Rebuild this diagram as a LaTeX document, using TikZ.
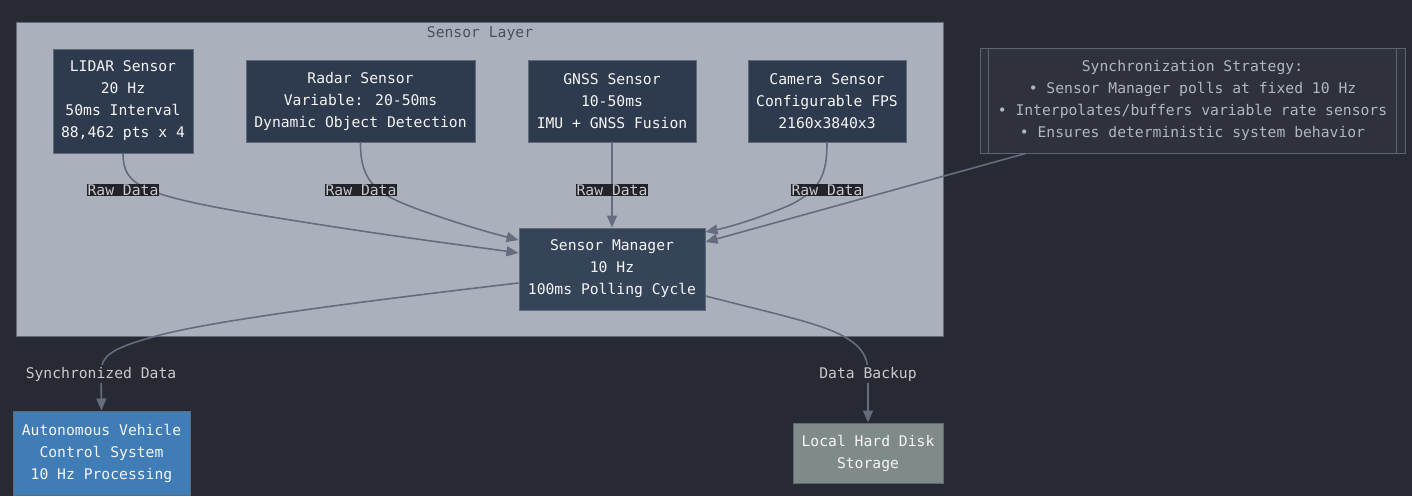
\documentclass[tikz,border=0pt]{standalone}
\usepackage{fontspec}
\newfontfamily\mono{DejaVu Sans Mono}
\usetikzlibrary{arrows.meta}
\definecolor{bgc}{RGB}{40,42,51}
\definecolor{clfill}{RGB}{171,176,189}
\definecolor{clborder}{RGB}{100,106,120}
\definecolor{cltext}{RGB}{75,80,92}
\definecolor{nodefill}{RGB}{46,58,77}
\definecolor{smfill}{RGB}{53,68,89}
\definecolor{nodeborder}{RGB}{95,105,120}
\definecolor{nodetext}{RGB}{245,245,245}
\definecolor{edgec}{RGB}{100,108,125}
\definecolor{lblbg}{RGB}{35,36,40}
\definecolor{lbltext}{RGB}{200,202,208}
\definecolor{notefill}{RGB}{48,50,59}
\definecolor{noteborder}{RGB}{95,99,110}
\definecolor{notetext}{RGB}{178,182,192}
\definecolor{autofill}{RGB}{64,124,182}
\definecolor{diskfill}{RGB}{127,139,137}
\tikzset{
  txt/.style={font=\mono\fontsize{14.7pt}{22pt}\selectfont},
  box/.style={txt, draw=nodeborder, fill=nodefill, text=nodetext, align=center, inner sep=0pt, line width=1pt, execute at begin node={\rule{0pt}{20pt}}},
  edge/.style={draw=edgec, line width=1.6pt, -{Triangle[length=12pt,width=10pt]}},
  lbl/.style={txt, fill=lblbg, text=lbltext, inner sep=1pt},
  lbldark/.style={txt, fill=bgc, text=lbltext, inner sep=2pt},
}
\begin{document}
\begin{tikzpicture}[x=1pt,y=-1pt]
\fill[bgc] (0,0) rectangle (1412,496);
\useasboundingbox (0,0) rectangle (1412,496);
% cluster
\draw[fill=clfill, draw=clborder, line width=1pt] (16,22) rectangle (943,336);
\node[txt, text=cltext, anchor=center] (cltitle) at (480,34) {Sensor Layer};
% sensors
\node[box, minimum width=140pt, minimum height=104pt] (lidar) at (123,101) {LIDAR Sensor\\20 Hz\\50ms Interval\\88,462 pts x 4};
\node[box, minimum width=229pt, minimum height=82pt] (radar) at (360.5,101) {Radar Sensor\\Variable: 20-50ms\\Dynamic Object Detection};
\node[box, minimum width=168pt, minimum height=82pt] (gnss) at (612,101) {GNSS Sensor\\10-50ms\\IMU + GNSS Fusion};
\node[box, minimum width=158pt, minimum height=82pt] (camera) at (827,101) {Camera Sensor\\Configurable FPS\\2160x3840x3};
\node[box, fill=smfill, minimum width=186pt, minimum height=82pt] (sm) at (612,269) {Sensor Manager\\10 Hz\\100ms Polling Cycle};
% note
\node[box, fill=notefill, draw=noteborder, text=notetext, minimum width=425pt, minimum height=105pt] (note) at (1192.5,100.5) {Synchronization Strategy:\\\textbullet{} Sensor Manager polls at fixed 10 Hz\\\textbullet{} Interpolates/buffers variable rate sensors\\\textbullet{} Ensures deterministic system behavior};
\draw[noteborder, line width=1pt] ([xshift=9pt]note.north west) -- ([xshift=9pt]note.south west);
\draw[noteborder, line width=1pt] ([xshift=-9pt]note.north east) -- ([xshift=-9pt]note.south east);
% outputs
\node[box, fill=autofill, minimum width=177pt, minimum height=84pt] (auto) at (101.5,453) {Autonomous Vehicle\\Control System\\10 Hz Processing};
\node[box, fill=diskfill, minimum width=150pt, minimum height=60pt] (disk) at (868,453) {Local Hard Disk\\Storage};
% edges
\draw[edge] (lidar.south) .. controls (123,185) and (140,195) .. (260,215) .. controls (380,235) and (470,246) .. ([yshift=16pt]sm.west);
\draw[edge] (radar.south) .. controls (360,185) and (380,195) .. (420,210) .. controls (465,226) and (495,234) .. ([yshift=29pt]sm.west);
\draw[edge] (gnss.south) -- (sm.north);
\draw[edge] (camera.south) .. controls (827,175) and (820,190) .. (790,205) .. controls (755,220) and (725,228) .. ([yshift=37pt]sm.east);
\draw[edge] ([xshift=-167pt]note.south) -- ([yshift=27pt]sm.east);
\draw[edge] ([yshift=-14pt]sm.west) .. controls (330,305) and (210,322) .. (160,335) .. controls (112,348) and (101,355) .. (101,373) -- (auto.north);
\draw[edge] ([yshift=-27pt]sm.east) .. controls (760,310) and (805,320) .. (830,330) .. controls (860,342) and (868,355) .. (868,373) -- (disk.north);
% labels
\node[lbl] (l1) at (123,190) {Raw Data};
\node[lbl] (l2) at (361,190) {Raw Data};
\node[lbl] (l3) at (612,190) {Raw Data};
\node[lbl] (l4) at (827,190) {Raw Data};
\node[lbldark] (l5) at (101,374) {Synchronized Data};
\node[lbldark] (l6) at (868,374) {Data Backup};
\end{tikzpicture}
\end{document}
